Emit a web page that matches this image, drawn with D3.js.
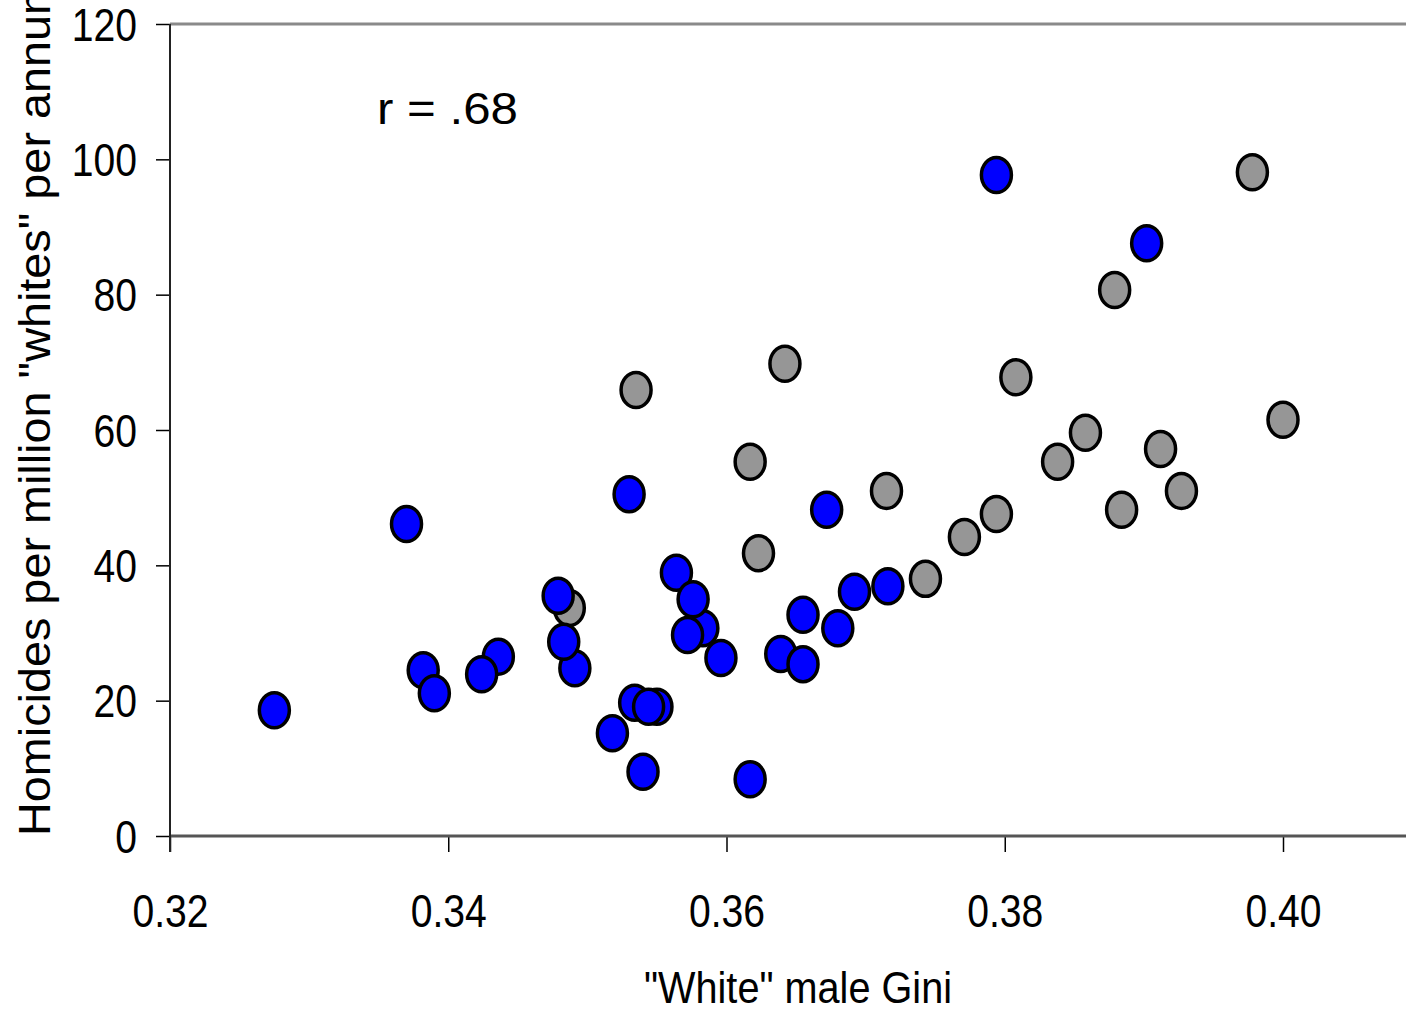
<!DOCTYPE html>
<html>
<head>
<meta charset="utf-8">
<script src="https://cdn.jsdelivr.net/npm/d3@7"></script>
<style>
  html, body { margin: 0; padding: 0; background: #fff; overflow: hidden; }
  svg { display: block; font-family: "Liberation Sans", Arial, sans-serif; }
</style>
</head>
<body>
<svg id="chart" width="1406" height="1015"></svg>
<script>
// ---- data ----
const grayX = [0.3978, 0.3879, 0.3642, 0.3535, 0.3808, 0.4000, 0.3858, 0.3838, 0.3617, 0.3912, 0.3715, 0.3927, 0.3794, 0.3884, 0.3771, 0.3623, 0.3743, 0.3487];
const grayY = [98.1, 80.7, 69.8, 65.9, 67.8, 61.5, 59.6, 55.3, 55.3, 57.2, 51.0, 51.0, 47.6, 48.2, 44.2, 41.8, 38.0, 33.7];

const blueX = [0.3583, 0.3550, 0.3534, 0.3544, 0.3518, 0.3436, 0.3424, 0.3382, 0.3390, 0.3491, 0.3483, 0.3479,
               0.3564, 0.3576, 0.3572, 0.3596, 0.3639, 0.3655, 0.3655, 0.3680, 0.3692, 0.3716, 0.3672,
               0.3540, 0.3617, 0.3275, 0.3370, 0.3530, 0.3794, 0.3902];
const blueY = [30.7, 19.1, 19.7, 19.1, 15.2, 26.5, 23.9, 24.5, 21.1, 24.8, 28.7, 35.5,
               38.9, 35.0, 29.7, 26.3, 26.9, 25.4, 32.7, 30.7, 36.1, 36.9, 48.2,
               9.5, 8.4, 18.6, 46.1, 50.5, 97.7, 87.6];

const xTicks = [0.32, 0.34, 0.36, 0.38, 0.40];
const yTicks = [0, 20, 40, 60, 80, 100, 120];
const xTitle = '"White" male Gini';
const yTitle = 'Homicides per million "whites" per annum';
const rLabel = 'r = .68';

(function () {
  const svg = d3.select('#chart');
  const plotLeft = 170, plotTop = 24, plotBottom = 836;
  const rightEdge = 1406;
  const x = d3.scaleLinear().domain([0.32, 0.41]).range([plotLeft, plotLeft + 4.5 * 278.25]);
  const y = d3.scaleLinear().domain([0, 120]).range([plotBottom, plotTop]);
  const font = '"Liberation Sans", Arial, sans-serif';
  const sx = 0.85;

  // top border
  svg.append('line')
    .attr('x1', plotLeft).attr('x2', rightEdge)
    .attr('y1', y(120)).attr('y2', y(120))
    .attr('stroke', '#8a8a8a').attr('stroke-width', 3);

  // x axis
  const gx = svg.append('g').attr('transform', `translate(0,${plotBottom})`)
    .call(d3.axisBottom(x).tickValues(xTicks).tickSize(16).tickSizeOuter(0).tickFormat(d3.format('.2f')));
  gx.select('.domain').remove();
  gx.append('line').attr('x1', plotLeft).attr('x2', rightEdge).attr('y1', 0).attr('y2', 0)
    .attr('stroke', '#555').attr('stroke-width', 3);
  gx.selectAll('.tick line').attr('stroke', '#000').attr('stroke-width', 1.5);
  gx.selectAll('.tick text')
    .attr('x', 0).attr('y', 91).attr('dy', 0)
    .attr('font-size', 46).attr('fill', '#000')
    .attr('font-family', font)
    .attr('transform', `scale(${sx},1)`);

  // y axis
  const gy = svg.append('g').attr('transform', `translate(${plotLeft},0)`)
    .call(d3.axisLeft(y).tickValues(yTicks).tickSize(14).tickSizeOuter(0));
  gy.select('.domain').remove();
  gy.append('line').attr('x1', 0).attr('x2', 0).attr('y1', y(120)).attr('y2', plotBottom + 16)
    .attr('stroke', '#222').attr('stroke-width', 2);
  gy.selectAll('.tick line').attr('stroke', '#000').attr('stroke-width', 1.5);
  gy.selectAll('.tick text')
    .attr('font-size', 46).attr('fill', '#000')
    .attr('font-family', font)
    .attr('x', -33 / sx).attr('dy', '0.35em')
    .attr('transform', `scale(${sx},1)`);

  // axis titles
  svg.append('text')
    .attr('x', 798).attr('y', 1003)
    .attr('text-anchor', 'middle')
    .attr('font-size', 45)
    .attr('textLength', 308).attr('lengthAdjust', 'spacingAndGlyphs')
    .text(xTitle);

  svg.append('text')
    .attr('transform', 'translate(50,836) rotate(-90)')
    .attr('text-anchor', 'start')
    .attr('font-size', 45)
    .attr('textLength', 860).attr('lengthAdjust', 'spacingAndGlyphs')
    .text(yTitle);

  // r label
  svg.append('text')
    .attr('x', 377).attr('y', 124)
    .attr('font-size', 44)
    .attr('textLength', 141).attr('lengthAdjust', 'spacingAndGlyphs')
    .text(rLabel);

  // points
  const rx = 15, ry = 17.5;
  const gray = grayX.map((v, i) => ({x: v, y: grayY[i]}));
  const blue = blueX.map((v, i) => ({x: v, y: blueY[i]}));

  svg.append('g').selectAll('ellipse').data(gray).join('ellipse')
    .attr('cx', d => x(d.x)).attr('cy', d => y(d.y))
    .attr('rx', rx).attr('ry', ry)
    .attr('fill', '#969696').attr('stroke', '#000').attr('stroke-width', 3.5);

  svg.append('g').selectAll('ellipse').data(blue).join('ellipse')
    .attr('cx', d => x(d.x)).attr('cy', d => y(d.y))
    .attr('rx', rx).attr('ry', ry)
    .attr('fill', '#0000ff').attr('stroke', '#000').attr('stroke-width', 3.5);
})();
</script>
</body>
</html>
